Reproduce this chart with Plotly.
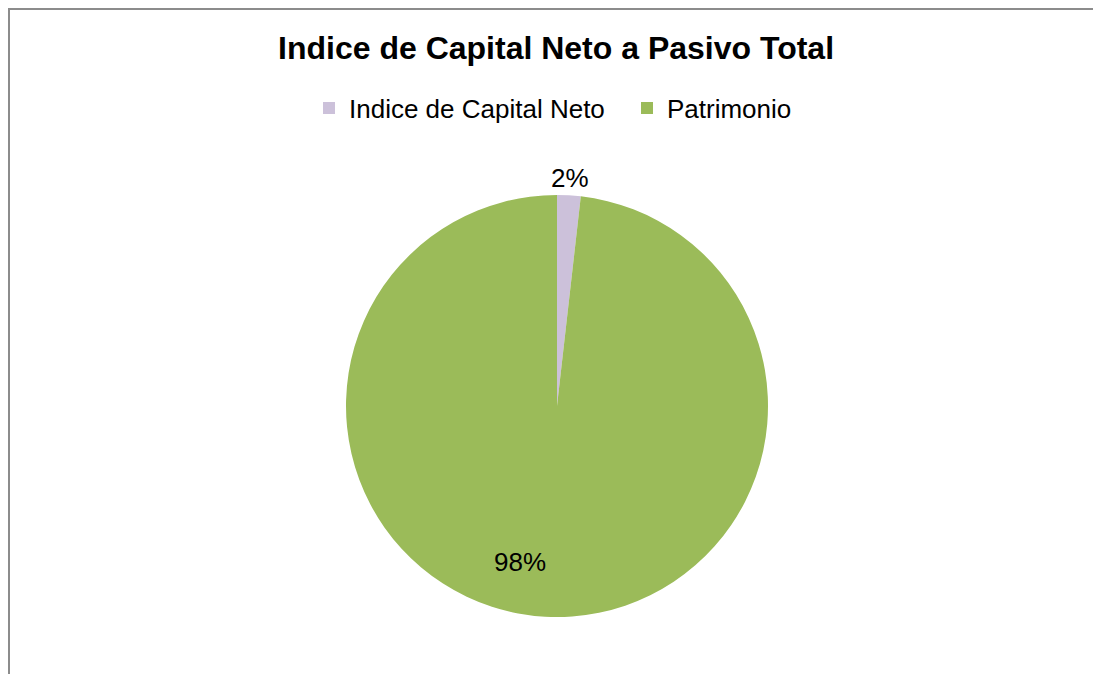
import math
import plotly.graph_objects as go

labels = ["Indice de Capital Neto", "Patrimonio"]
values = [1.8, 98.2]
colors = ["#CCC1DA", "#9BBB59"]
title_text = "Indice de Capital Neto a Pasivo Total"

# label placement style: radius factor and angular nudge (degrees) for each slice
label_radius = [1.08, 0.76]
label_nudge = [0.0, 10.0]

W, H = 1093, 666          # page body has an 8px margin, figure starts at (8, 8)
cx, cy, r = 549, 398, 211  # pie centre / radius in figure pixels
FONT = "Liberation Sans, Arial, sans-serif"

fig = go.Figure()
fig.add_trace(go.Pie(
    labels=labels,
    values=values,
    sort=False,
    direction="clockwise",
    rotation=0,
    marker=dict(colors=colors, line=dict(width=0)),
    textinfo="none",
    domain=dict(x=[(cx - r) / W, (cx + r) / W], y=[1 - (cy + r) / H, 1 - (cy - r) / H]),
    hoverinfo="label+percent",
))

# percentage labels, positioned from the slice angles
total = sum(values)
annotations = []
cum = 0.0
for v, rf, nudge in zip(values, label_radius, label_nudge):
    mid = (cum + v / 2) / total * 360 + nudge
    cum += v
    px = cx + rf * r * math.sin(math.radians(mid))
    py = cy - rf * r * math.cos(math.radians(mid))
    annotations.append(dict(
        x=px / W, y=1 - py / H, xref="paper", yref="paper",
        text=f"{round(v / total * 100)}%", showarrow=False,
        xanchor="center", yanchor="middle",
        font=dict(family=FONT, size=26, color="#000000"),
    ))

fig.update_layout(
    width=W, height=H,
    margin=dict(l=0, r=0, t=0, b=0),
    paper_bgcolor="white",
    plot_bgcolor="white",
    title=dict(text="<b>" + title_text + "</b>", x=0.5014, xanchor="center", y=1 - 40 / H, yanchor="middle",
               font=dict(family=FONT, size=32, color="#000000")),
    legend=dict(orientation="h", x=301 / W, xanchor="left", y=1 - 100 / H, yanchor="middle",
                font=dict(family=FONT, size=26, color="#000000"),
                entrywidth=273, entrywidthmode="pixels", tracegroupgap=0),
    annotations=annotations,
    shapes=[
        dict(type="line", xref="paper", yref="paper", x0=1 / W, x1=1 / W, y0=0, y1=1,
             line=dict(color="#8C8C8C", width=2)),
        dict(type="line", xref="paper", yref="paper", x0=0, x1=1, y0=1 - 1 / H, y1=1 - 1 / H,
             line=dict(color="#8C8C8C", width=2)),
    ],
)

fig.write_html("out.html")
